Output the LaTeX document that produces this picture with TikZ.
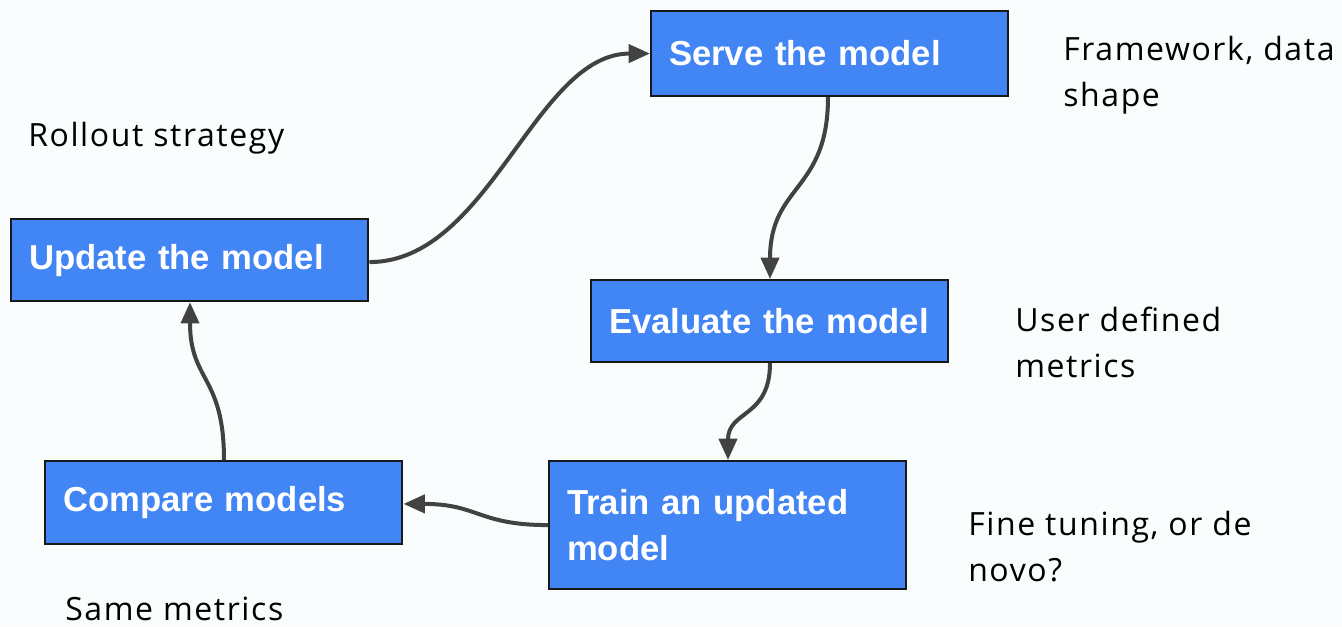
\documentclass[tikz,border=0pt]{standalone}
\usepackage{fontspec}
\setmainfont{Liberation Sans}
\newfontfamily\notefont[LetterSpace=5]{Open Sans}
\usetikzlibrary{arrows.meta}
\definecolor{boxblue}{HTML}{4285F4}
\definecolor{edgegray}{HTML}{424242}
\definecolor{paper}{HTML}{F9FDFD}
\tikzset{
  stepbox/.style={draw=black!90, line width=1.6pt, fill=boxblue, text=white,
    font=\fontsize{26}{34}\selectfont\bfseries, anchor=north west,
    align=left, inner xsep=13.5pt, inner ysep=0pt,
    minimum width=268pt, text width=241pt},
  note/.style={font=\notefont\fontsize{24}{34.2}\selectfont, anchor=base west,
    align=left, inner sep=0pt, text=black},
  flow/.style={draw=edgegray, line width=3pt,
    -{Triangle[length=16pt,width=13.5pt]}}
}
\begin{document}
\begin{tikzpicture}[x=0.75pt,y=-0.75pt]
\fill[paper] (0,0) rectangle (1342,626);
\useasboundingbox (0,0) rectangle (1342,626);

% process steps
\node[stepbox, minimum height=63.75pt] (serve) at (650,10) {Serve the model};
\node[stepbox, minimum height=61.5pt] (update) at (10,218) {Update the model};
\node[stepbox, minimum height=61.5pt] (eval) at (590,279) {\mbox{Evaluate the model}};
\node[stepbox, minimum height=96pt] (train) at (548,460) {Train an updated\\model};
\node[stepbox, minimum height=62.25pt] (compare) at (44,460) {Compare models};

% side notes (anchored on the baseline of the last line)
\node[note] (nframe) at (1063,106) {Framework, data\\shape};
\node[note] (nroll) at (28,146) {Rollout strategy};
\node[note] (nuser) at (1015,377) {User defined\\metrics};
\node[note] (nfine) at (968,581) {Fine tuning, or de\\novo?};
\node[note] (nsame) at (65,620) {Same metrics};

% connectors
\coordinate (a1) at ([yshift=-1.5pt]update.east);
\draw[flow] (a1) .. controls +(120,0) and +(-115,0) .. (serve.west);
\coordinate (a2) at ([xshift=133.5pt]serve.south west);
\coordinate (b2) at ([xshift=135pt]eval.north west);
\draw[flow] (a2) .. controls +(0,95) and +(0,-95) .. (b2);
\coordinate (a3) at ([xshift=135pt]eval.south west);
\coordinate (b3) at ([xshift=135pt]train.north west);
\draw[flow] (a3) .. controls +(0,55) and +(0,-50) .. (b3);
\coordinate (a4) at (train.west);
\coordinate (b4) at ([yshift=-1pt]compare.east);
\draw[flow] (a4) .. controls +(-70,0) and +(75,0) .. (b4);
\coordinate (a5) at ([xshift=135pt]compare.north west);
\coordinate (b5) at ([xshift=135pt]update.south west);
\draw[flow] (a5) .. controls +(0,-85) and +(0,80) .. (b5);
\end{tikzpicture}
\end{document}
